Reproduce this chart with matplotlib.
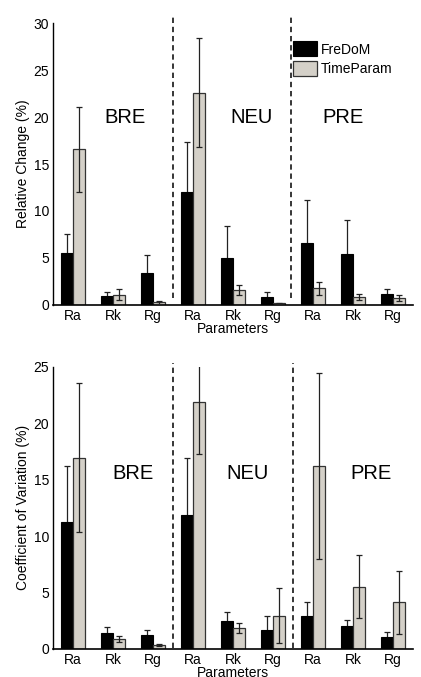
import numpy as np
import matplotlib.pyplot as plt

plt.rcParams['font.family'] = ['Liberation Sans', 'DejaVu Sans']

params = ['Ra', 'Rk', 'Rg', 'Ra', 'Rk', 'Rg', 'Ra', 'Rk', 'Rg']
groups = ['BRE', 'NEU', 'PRE']

# Relative change (%)
rc_fredom = [5.5, 0.95, 3.45, 12.0, 5.05, 0.9, 6.55, 5.4, 1.15]
rc_fredom_err = [2.0, 0.4, 1.85, 5.3, 3.4, 0.45, 4.6, 3.6, 0.5]
rc_time = [16.55, 1.1, 0.28, 22.6, 1.6, 0.2, 1.77, 0.82, 0.72]
rc_time_err = [4.55, 0.55, 0.15, 5.8, 0.53, 0.06, 0.7, 0.3, 0.3]

# Coefficient of variation (%)
cv_fredom = [11.25, 1.4, 1.25, 11.85, 2.48, 1.7, 2.92, 2.04, 1.03]
cv_fredom_err = [4.95, 0.52, 0.45, 5.05, 0.77, 1.22, 1.27, 0.53, 0.5]
cv_time = [16.95, 0.9, 0.35, 21.85, 1.83, 2.95, 16.2, 5.52, 4.13]
cv_time_err = [6.6, 0.25, 0.12, 4.55, 0.44, 2.43, 8.27, 2.8, 2.8]

gray = '#d4d0c8'
x = np.arange(1, len(params) + 1)
w = 0.29


def panel(ax, fre, fre_err, tim, tim_err, ymax, yticks, ylabel, seps, seps_y, lab_x, lab_y):
    ax.bar(x - w / 2, fre, w, color='black', edgecolor='black', linewidth=0.8,
           label='FreDoM', zorder=2)
    ax.bar(x + w / 2, tim, w, color=gray, edgecolor='#333333', linewidth=0.9,
           label='TimeParam', zorder=2)
    # black bars hide the lower half of their error bars
    ax.errorbar(x - w / 2, fre, yerr=fre_err, fmt='none', ecolor='#222222',
                elinewidth=0.9, capsize=2.2, capthick=0.9, zorder=1)
    ax.errorbar(x + w / 2, tim, yerr=tim_err, fmt='none', ecolor='#222222',
                elinewidth=0.9, capsize=2.2, capthick=0.9, zorder=3)
    for s in seps:
        ax.axvline(s, ymin=seps_y[0], ymax=seps_y[1], color='black', lw=1.1,
                   linestyle=(0, (3.5, 2.5)), clip_on=False, zorder=4)
    for g, gx in zip(groups, lab_x):
        ax.text(gx, lab_y, g, fontsize=14.5, ha='center', va='center')
    ax.set_xlim(0.5, 9.5)
    ax.set_ylim(0, ymax)
    ax.set_yticks(yticks)
    ax.set_xticks(x)
    ax.set_xticklabels(params)
    ax.tick_params(length=0, labelsize=10, pad=3)
    ax.spines['top'].set_visible(False)
    ax.spines['right'].set_visible(False)
    ax.spines['left'].set_linewidth(1.0)
    ax.spines['bottom'].set_linewidth(1.2)
    ax.set_ylabel(ylabel, fontsize=10, labelpad=2)
    ax.set_xlabel('Parameters', fontsize=10, labelpad=-1)


fig = plt.figure(figsize=(4.21, 6.77), dpi=100)
ax1 = fig.add_axes([0.126, 0.5495, 0.855, 0.4165])
ax2 = fig.add_axes([0.126, 0.0414, 0.855, 0.417])

panel(ax1, rc_fredom, rc_fredom_err, rc_time, rc_time_err, 30, [0, 5, 10, 15, 20, 25, 30],
      'Relative Change (%)', [3.5, 6.45], (0.025, 1.032), [2.3, 5.45, 7.75], 20)
panel(ax2, cv_fredom, cv_fredom_err, cv_time, cv_time_err, 25, [0, 5, 10, 15, 20, 25],
      'Coefficient of Variation (%)', [3.5, 6.5], (0.005, 1.012), [2.5, 5.35, 8.45], 15.5)

ax1.legend(loc='upper left', bbox_to_anchor=(0.668, 0.935), frameon=False,
           borderpad=0, borderaxespad=0, handlelength=1.7, handleheight=1.3,
           labelspacing=0.3, handletextpad=0.25, fontsize=10)

fig.savefig('out.png', dpi=100)
